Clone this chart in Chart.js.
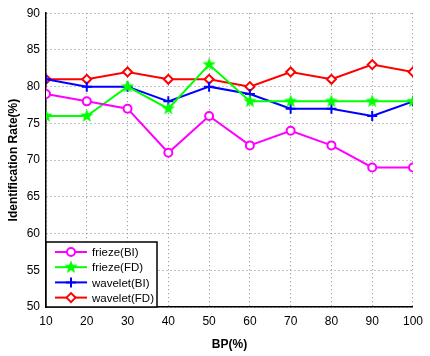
<!DOCTYPE html>
<html>
<head>
<meta charset="utf-8">
<script src="https://cdn.jsdelivr.net/npm/chart.js@4.4.0/dist/chart.umd.min.js"></script>
<style>
  html, body { margin: 0; padding: 0; background: #fff; }
  #wrap { position: relative; width: 430px; height: 356px; }
</style>
</head>
<body>
<div id="wrap"><canvas id="c" width="430" height="356"></canvas></div>
<script>
// data
const bp = [10, 20, 30, 40, 50, 60, 70, 80, 90, 100];
const friezeBI = [79, 78, 77, 71, 76, 72, 74, 72, 69, 69];
const friezeFD = [76, 76, 80, 77, 83, 78, 78, 78, 78, 78];
const waveletBI = [81, 80, 80, 78, 80, 79, 77, 77, 76, 78];
const waveletFD = [81, 81, 82, 81, 81, 80, 82, 81, 83, 82];
const seriesNames = ['frieze(BI)', 'frieze(FD)', 'wavelet(BI)', 'wavelet(FD)'];
const yTicks = [50, 55, 60, 65, 70, 75, 80, 85, 90];

const FONT = '"Liberation Sans", Arial, sans-serif';

// filled 5-point star image for frieze(FD)
function makeStar(color, r) {
  const c = document.createElement('canvas');
  const s = Math.ceil(r * 2 + 2);
  c.width = s; c.height = s;
  const g = c.getContext('2d');
  g.beginPath();
  for (let i = 0; i < 10; i++) {
    const rad = i % 2 === 0 ? r : r * 0.42;
    const a = -Math.PI / 2 + i * Math.PI / 5;
    const x = s / 2 + rad * Math.cos(a), y = s / 2 + rad * Math.sin(a);
    if (i === 0) g.moveTo(x, y); else g.lineTo(x, y);
  }
  g.closePath();
  g.fillStyle = color;
  g.fill();
  return c;
}
const starImg = makeStar('#00ff00', 7);

const pts = arr => arr.map((v, i) => ({ x: bp[i], y: v }));

function ds(label, values, color, style, radius) {
  return {
    label: label,
    data: pts(values),
    borderColor: color,
    backgroundColor: '#ffffff',
    borderWidth: 2,
    pointStyle: style,
    pointRadius: radius,
    pointBorderColor: color,
    pointBackgroundColor: '#ffffff',
    pointBorderWidth: 2,
    tension: 0
  };
}

const datasets = [
  ds(seriesNames[0], friezeBI, '#ff00ff', 'circle', 4),
  ds(seriesNames[1], friezeFD, '#00ff00', starImg, 7),
  ds(seriesNames[2], waveletBI, '#0000ff', 'cross', 5),
  ds(seriesNames[3], waveletFD, '#ff0000', 'rectRot', 4.5)
];

// legend box in lower-left of the plot
const legendPlugin = {
  id: 'boxLegend',
  afterDraw(chart) {
    const ctx = chart.ctx;
    const a = chart.chartArea;
    const x0 = a.left, y1 = a.bottom;
    const w = 111, h = 65;
    const y0 = y1 - h;
    ctx.save();
    ctx.fillStyle = '#fff';
    ctx.fillRect(x0, y0, w, h);
    ctx.strokeStyle = '#000';
    ctx.lineWidth = 1.5;
    ctx.strokeRect(x0, y0, w, h);
    ctx.font = '11.5px ' + FONT;
    ctx.textBaseline = 'middle';
    chart.data.datasets.forEach((d, i) => {
      const y = y0 + 10 + i * 15.2;
      ctx.strokeStyle = d.borderColor;
      ctx.lineWidth = 2;
      ctx.beginPath();
      ctx.moveTo(x0 + 9, y);
      ctx.lineTo(x0 + 41, y);
      ctx.stroke();
      ctx.fillStyle = '#ffffff';
      ctx.strokeStyle = d.borderColor;
      Chart.helpers.drawPoint(ctx, {
        pointStyle: d.pointStyle,
        radius: d.pointRadius,
        borderWidth: 2,
        rotation: 0
      }, x0 + 25, y);
      ctx.fillStyle = '#000';
      ctx.fillText(d.label, x0 + 46, y + 1);
    });
    ctx.restore();
  }
};

new Chart(document.getElementById('c'), {
  type: 'line',
  data: { datasets: datasets },
  options: {
    responsive: false,
    animation: false,
    parsing: false,
    layout: { padding: { left: 0, top: 13, right: 10, bottom: 0 } },
    plugins: { legend: { display: false }, tooltip: { enabled: false } },
    scales: {
      x: {
        type: 'linear',
        min: 10, max: 100,
        afterBuildTicks: s => { s.ticks = bp.map(v => ({ value: v })); },
        afterFit: s => { s.height = 49; },
        grid: { color: '#888', lineWidth: 1, tickLength: 0, drawTicks: false },
        border: { color: '#000', width: 1.5, dash: [1, 3] },
        ticks: { color: '#000', font: { family: FONT, size: 12 }, padding: 7, maxRotation: 0 },
        title: { display: true, text: 'BP(%)', color: '#000', font: { family: FONT, size: 12, weight: 'bold' }, padding: { top: 3 } }
      },
      y: {
        min: 50, max: 90,
        afterBuildTicks: s => { s.ticks = yTicks.map(v => ({ value: v })); },
        afterFit: s => { s.width = 46; },
        grid: { color: '#888', lineWidth: 1, tickLength: 0, drawTicks: false },
        border: { color: '#000', width: 1.5, dash: [1, 3] },
        ticks: { color: '#000', font: { family: FONT, size: 12 }, padding: 6 },
        title: { display: true, text: 'Identification Rate(%)', color: '#000', font: { family: FONT, size: 12, weight: 'bold' }, padding: { bottom: 0, top: 6 } }
      }
    }
  },
  plugins: [legendPlugin]
});
</script>
</body>
</html>
